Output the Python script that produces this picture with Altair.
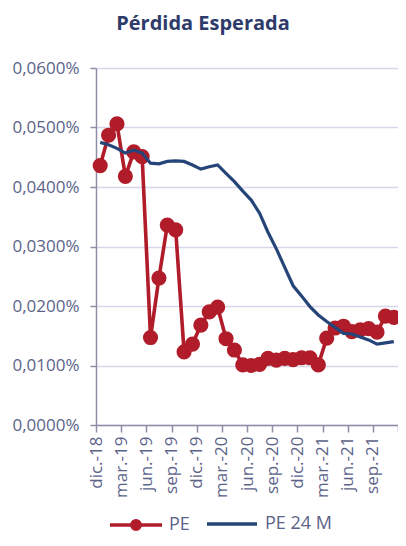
import altair as alt
import pandas as pd

tick_labels = ["dic.-18", "mar.-19", "jun.-19", "sep.-19", "dic.-19", "mar.-20",
               "jun.-20", "sep.-20", "dic.-20", "mar.-21", "jun.-21", "sep.-21"]

# PE (% values), monthly from dic.-18 to nov.-21
pe = [0.0436, 0.0487, 0.0506, 0.0418, 0.0459, 0.0451,
      0.0147, 0.0247, 0.0336, 0.0328, 0.0123, 0.0136,
      0.0168, 0.0190, 0.0198, 0.0145, 0.0126, 0.0101,
      0.0100, 0.0102, 0.0112, 0.0109, 0.0112, 0.0110,
      0.0113, 0.0113, 0.0101, 0.0146, 0.0163, 0.0166,
      0.0157, 0.0160, 0.0162, 0.0156, 0.0183, 0.0181]

pe24 = [0.0475, 0.0471, 0.0465, 0.0457, 0.0462, 0.0457,
        0.0440, 0.0439, 0.0443, 0.0444, 0.0443, 0.0437,
        0.0430, 0.0434, 0.0437, 0.0423, 0.0409, 0.0393,
        0.0378, 0.0356, 0.0324, 0.0296, 0.0265, 0.0234,
        0.0217, 0.0199, 0.0185, 0.0174, 0.0164, 0.0154,
        0.0153, 0.0148, 0.0143, 0.0136, 0.0138, 0.0140]

RED = "#B01C2A"
NAVY = "#254478"
TXT = "#5C6389"
GRID = "#D6D6EC"
AX = "#8E8EA6"
FONT = "Open Sans"

df_pe = pd.DataFrame({"m": range(len(pe)), "v": pe, "serie": "PE"})
df_24 = pd.DataFrame({"m": range(len(pe24)), "v": pe24, "serie": "PE 24 M"})

lab_js = "[" + ",".join("'%s'" % l for l in tick_labels) + "]"

x_enc = alt.X("xm:Q",
              scale=alt.Scale(domain=[0, 36], nice=False, zero=False),
              axis=alt.Axis(values=list(range(0, 37, 3)),
                            labelExpr="datum.value < 36 ? %s[datum.value/3] : ''" % lab_js,
                            labelAngle=270, labelFontSize=17, labelFont=FONT,
                            labelColor=TXT, labelPadding=4, tickSize=7,
                            tickColor=AX, domainColor=AX, domainWidth=1.5,
                            tickWidth=1.5, grid=False, title=None,
                            labelOverlap=False, labelBound=False))
y_enc = alt.Y("v:Q",
              scale=alt.Scale(domain=[0, 0.06], nice=False),
              axis=alt.Axis(values=[0, 0.01, 0.02, 0.03, 0.04, 0.05, 0.06],
                            labelExpr="replace(format(datum.value, '.4f'), '.', ',') + '%'",
                            labelFontSize=17, labelFont=FONT, labelColor=TXT,
                            labelPadding=11, tickSize=6, tickColor=AX, tickWidth=1.5,
                            domainColor=AX, domainWidth=1.5,
                            gridColor=GRID, gridWidth=1.5, title=None))

PATH = "M-1,0H1M0.16,0A0.16,0.16,0,1,1,-0.16,0A0.16,0.16,0,1,1,0.16,0Z"

base_pe = alt.Chart(df_pe).transform_calculate(xm="datum.m + 0.5")
red_line = base_pe.mark_line(strokeWidth=3.6, color=RED).encode(x=x_enc, y=y_enc)
red_pts = base_pe.mark_circle(size=230, opacity=1).encode(
    x=x_enc, y=y_enc,
    color=alt.Color("serie:N", scale=alt.Scale(domain=["PE"], range=[RED]),
                    legend=alt.Legend(title=None, orient="none", legendX=12, legendY=429,
                                      symbolType=PATH, symbolSize=2704,
                                      symbolStrokeColor=RED, symbolFillColor=RED,
                                      symbolStrokeWidth=3.5, labelFontSize=18,
                                      labelFont=FONT, labelColor=TXT, labelOffset=5,
                                      padding=0)))

navy_line = alt.Chart(df_24).transform_calculate(xm="datum.m + 0.5").mark_line(
    strokeWidth=3.2).encode(
    x=x_enc, y=y_enc,
    color=alt.Color("serie:N", scale=alt.Scale(domain=["PE 24 M"], range=[NAVY]),
                    legend=alt.Legend(title=None, orient="none", legendX=109, legendY=429,
                                      symbolType="stroke", symbolSize=2500,
                                      symbolStrokeWidth=3.5, labelFontSize=18,
                                      labelFont=FONT, labelColor=TXT, labelOffset=6,
                                      padding=0)))

chart = alt.layer(red_line, red_pts, navy_line).resolve_scale(color="independent").properties(
    width=302, height=357,
    autosize=alt.AutoSizeParams(type="none"),
    padding={"left": 88, "top": 60, "right": 0, "bottom": 109},
    title=alt.Title("Pérdida Esperada", font=FONT, fontSize=20, fontWeight="bold",
                    color="#2E3B6B", anchor="middle", dx=-44, dy=-21),
).configure_view(stroke=None)

chart.save("out.html", embed_options={"renderer": "svg", "actions": False})
